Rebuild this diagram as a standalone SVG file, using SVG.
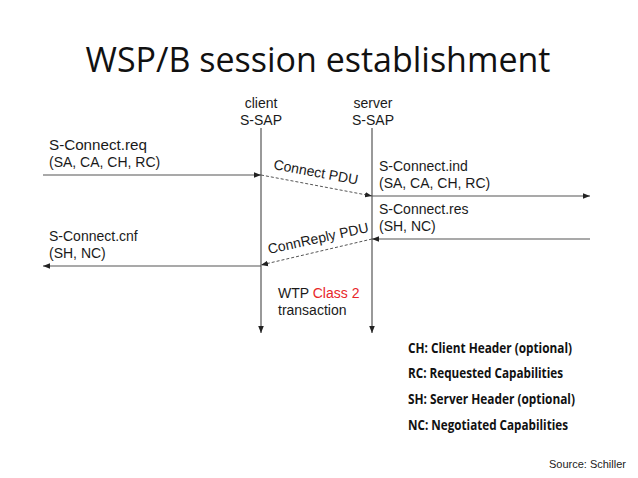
<svg xmlns="http://www.w3.org/2000/svg" width="638" height="478" viewBox="0 0 638 478">
<defs>
<marker id="ah" viewBox="0 0 10 10" refX="10" refY="5" markerWidth="7" markerHeight="7" markerUnits="userSpaceOnUse" orient="auto">
<path d="M0,1 L10,5 L0,9 Z" fill="#222"/>
</marker>
</defs>
<style>
.t{font-family:"Liberation Sans",Arial,sans-serif;font-size:14px;fill:#1a1a1a}
.lg{font-family:"Open Sans","Noto Sans",sans-serif;font-size:13.5px;font-weight:bold;fill:#111}
.ln{stroke:#555;stroke-width:1.2;fill:none}
.dl{stroke:#555;stroke-width:1;stroke-dasharray:3,2;fill:none}
</style>
<rect width="638" height="478" fill="#fff"/>
<text x="318" y="72" text-anchor="middle" font-family="'Open Sans','Noto Sans',sans-serif" font-size="35" fill="#111" textLength="465" lengthAdjust="spacingAndGlyphs">WSP/B session establishment</text>
<g id="client">
<text class="t" x="261" y="108" text-anchor="middle">client</text>
<text class="t" x="261" y="125" text-anchor="middle">S-SAP</text>
<line class="ln" x1="261" y1="128" x2="261" y2="333" marker-end="url(#ah)"/>
</g>
<g id="server">
<text class="t" x="373" y="108" text-anchor="middle">server</text>
<text class="t" x="373" y="125" text-anchor="middle">S-SAP</text>
<line class="ln" x1="372" y1="128" x2="372" y2="333" marker-end="url(#ah)"/>
</g>
<g id="labels">
<text class="t" x="49" y="150" textLength="98" lengthAdjust="spacingAndGlyphs">S-Connect.req</text>
<text class="t" x="49" y="167">(SA, CA, CH, RC)</text>
<text class="t" x="379" y="171">S-Connect.ind</text>
<text class="t" x="379" y="188">(SA, CA, CH, RC)</text>
<text class="t" x="379" y="214">S-Connect.res</text>
<text class="t" x="379" y="231">(SH, NC)</text>
<text class="t" x="49" y="241">S-Connect.cnf</text>
<text class="t" x="49" y="258">(SH, NC)</text>
<text class="t" transform="translate(273,169) rotate(10.5)">Connect PDU</text>
<text class="t" transform="translate(269,254) rotate(-12.5)">ConnReply PDU</text>
<text class="t" x="278" y="298">WTP <tspan fill="#e8262a">Class 2</tspan></text>
<text class="t" x="278" y="315">transaction</text>
</g>
<g id="connectors">
<line class="ln" x1="43" y1="175" x2="261" y2="175" marker-end="url(#ah)"/>
<line class="dl" x1="261" y1="175" x2="372" y2="196" marker-end="url(#ah)"/>
<line class="ln" x1="372" y1="196" x2="590" y2="196" marker-end="url(#ah)"/>
<line class="ln" x1="590" y1="239" x2="372" y2="239" marker-end="url(#ah)"/>
<line class="dl" x1="372" y1="239" x2="261" y2="265" marker-end="url(#ah)"/>
<line class="ln" x1="261" y1="266" x2="43" y2="266" marker-end="url(#ah)"/>
</g>
<g id="legend">
<text class="lg" x="408" y="353" textLength="164" lengthAdjust="spacingAndGlyphs">CH: Client Header (optional)</text>
<text class="lg" x="408" y="378" textLength="155" lengthAdjust="spacingAndGlyphs">RC: Requested Capabilities</text>
<text class="lg" x="408" y="404" textLength="167" lengthAdjust="spacingAndGlyphs">SH: Server Header (optional)</text>
<text class="lg" x="408" y="430" textLength="160" lengthAdjust="spacingAndGlyphs">NC: Negotiated Capabilities</text>
</g>
<text x="626" y="468" text-anchor="end" font-family="'Liberation Sans',Arial,sans-serif" font-size="11" fill="#222">Source: Schiller</text>
</svg>
